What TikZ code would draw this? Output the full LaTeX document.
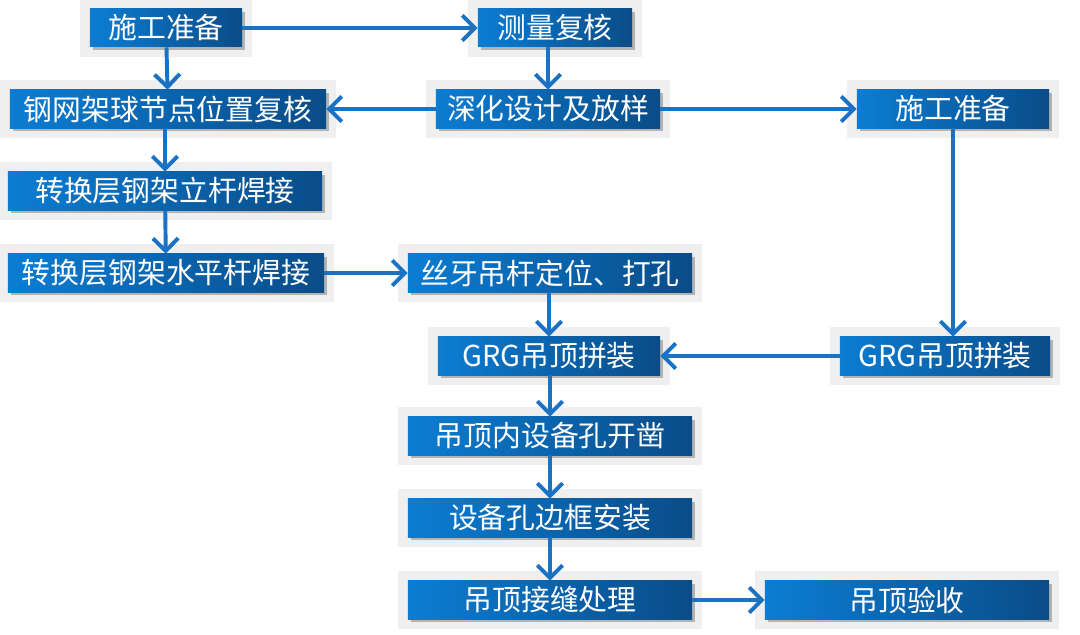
\documentclass[tikz,border=0pt]{standalone}
\usepackage{fontspec}
\setmainfont{Noto Sans CJK SC}
\usepackage{tikz}
\usetikzlibrary{arrows.meta,shadows,positioning,calc}
\definecolor{boxleft}{HTML}{0B7DD3}
\definecolor{boxright}{HTML}{0A4C88}
\definecolor{linkblue}{HTML}{1A72C4}
\definecolor{panelgray}{HTML}{EFEFEF}

\begin{document}
\begin{tikzpicture}[
            x=0.025cm, y=-0.025cm,
            block/.style={rectangle, preaction={draw=panelgray, line width=14pt},
                drop shadow={shadow xshift=2pt, shadow yshift=-2pt, fill=black!45, opacity=0.6},
                shading=axis, left color=boxleft, right color=boxright, shading angle=90,
                minimum height=0.95cm, inner sep=2pt, text=white,
                font=\fontsize{20.5}{23}\selectfont},
            arrow/.style={-{Straight Barb[length=9pt, width=18pt, line width=2.8pt]}, line width=2.8pt, draw=linkblue}
        ]
            \useasboundingbox (0,0) rectangle (1080,635);

            % Left column
            \node[block, minimum width=3.8cm] (prepL) at (166,28) {施工准备};
            \node[block, minimum width=7.9cm] (check) at (168,109) {钢网架球节点位置复核};
            \node[block, minimum width=7.85cm] (vert) at (165,191) {转换层钢架立杆焊接};
            \node[block, minimum width=7.9cm] (horiz) at (166,273) {转换层钢架水平杆焊接};

            % Middle column
            \node[block, minimum width=3.85cm] (survey) at (555,28) {测量复核};
            \node[block, minimum width=5.6cm] (design) at (548,109) {深化设计及放样};
            \node[block, minimum width=7.1cm] (rod) at (550,273) {丝牙吊杆定位、打孔};
            \node[block, minimum width=5.55cm] (grgM) at (549,356) {GRG吊顶拼装};
            \node[block, minimum width=7.1cm] (hole) at (550,436) {吊顶内设备孔开凿};
            \node[block, minimum width=7.1cm] (frame) at (550,518) {设备孔边框安装};
            \node[block, minimum width=7.1cm] (joint) at (550,600) {吊顶接缝处理};

            % Right column
            \node[block, minimum width=4.8cm] (prepR) at (953,109) {施工准备};
            \node[block, minimum width=5.25cm] (grgR) at (945,356) {GRG吊顶拼装};
            \node[block, minimum width=7.1cm] (accept) at (907,600) {吊顶验收};

            % Arrows
            \draw[arrow] (prepL) -- (survey);
            \draw[arrow] (prepL) -- (check);
            \draw[arrow] (survey.south -| design) -- (design);
            \draw[arrow] (design) -- (check);
            \draw[arrow] (design) -- (prepR);
            \draw[arrow] (check.south -| vert) -- (vert);
            \draw[arrow] (vert) -- (horiz);
            \draw[arrow] (horiz) -- (rod);
            \draw[arrow] (rod.south -| grgM) -- (grgM);
            \draw[arrow] (prepR.south) -- (prepR.south |- grgR.north);
            \draw[arrow] (grgR) -- (grgM);
            \draw[arrow] (grgM.south -| hole) -- (hole);
            \draw[arrow] (hole) -- (frame);
            \draw[arrow] (frame) -- (joint);
            \draw[arrow] (joint) -- (accept);
        \end{tikzpicture}
\end{document}
